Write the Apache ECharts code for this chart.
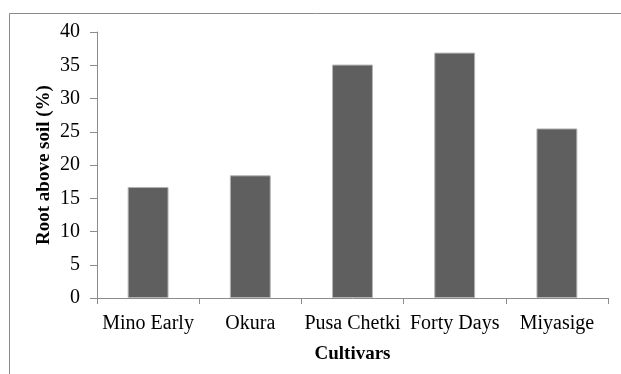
<!DOCTYPE html>
<html>
<head>
<meta charset="utf-8">
<script src="https://cdn.jsdelivr.net/npm/echarts@6/dist/echarts.min.js"></script>
<style>
    html, body { margin: 0; padding: 0; background: #fff; }
    #chart { width: 621px; height: 374px; }
</style>
</head>
<body>
<div id="chart"></div>
<script>
    // data
    var cultivars = ['Mino Early', 'Okura', 'Pusa Chetki', 'Forty Days', 'Miyasige']
    var rootAboveSoil = [16.7, 18.45, 35.1, 36.9, 25.5]
    var yTicks = [0, 5, 10, 15, 20, 25, 30, 35, 40]

    var font = '"Liberation Serif", "Times New Roman", serif'
    var axisGrey = '#8c8c8c'

    var myChart = echarts.init(document.getElementById('chart'))
    var options = {
        animation: false,
        grid: {
            left: 97,
            right: 13,
            top: 32,
            bottom: 76
        },
        // outer frame (only top and left edges visible)
        graphic: [
            { type: 'line', shape: { x1: 9.5, y1: 13.5, x2: 621, y2: 13.5 }, style: { stroke: '#8a8a8a', lineWidth: 1 } },
            { type: 'line', shape: { x1: 9.5, y1: 13.5, x2: 9.5, y2: 374 }, style: { stroke: '#8a8a8a', lineWidth: 1 } }
        ],
        xAxis: {
            type: 'category',
            data: cultivars,
            boundaryGap: true,
            name: 'Cultivars',
            nameLocation: 'middle',
            nameGap: 47,
            nameMoveOverlap: false,
            nameTextStyle: { fontFamily: font, fontSize: 19, fontWeight: 'bold', color: '#000' },
            axisLine: { lineStyle: { color: axisGrey, width: 1 } },
            axisTick: { show: true, length: 6, alignWithLabel: false, lineStyle: { color: axisGrey } },
            axisLabel: { fontFamily: font, fontSize: 20, color: '#000', margin: 16, interval: 0 }
        },
        yAxis: {
            type: 'value',
            min: yTicks[0],
            max: yTicks[yTicks.length - 1],
            interval: yTicks[1] - yTicks[0],
            name: 'Root above soil (%)',
            nameLocation: 'middle',
            nameGap: 43,
            nameMoveOverlap: false,
            nameTextStyle: { fontFamily: font, fontSize: 19, fontWeight: 'bold', color: '#000' },
            axisLine: { show: true, lineStyle: { color: axisGrey, width: 1 } },
            axisTick: { show: true, length: 7, lineStyle: { color: axisGrey } },
            axisLabel: { fontFamily: font, fontSize: 20, color: '#000', margin: 17 },
            splitLine: { show: false }
        },
        series: [{
            type: 'bar',
            data: rootAboveSoil,
            barWidth: '40%',
            itemStyle: { color: '#5f5f5f', borderColor: '#b4b4b4', borderWidth: 1 }
        }]
    }
    myChart.setOption(options)
</script>
</body>
</html>
